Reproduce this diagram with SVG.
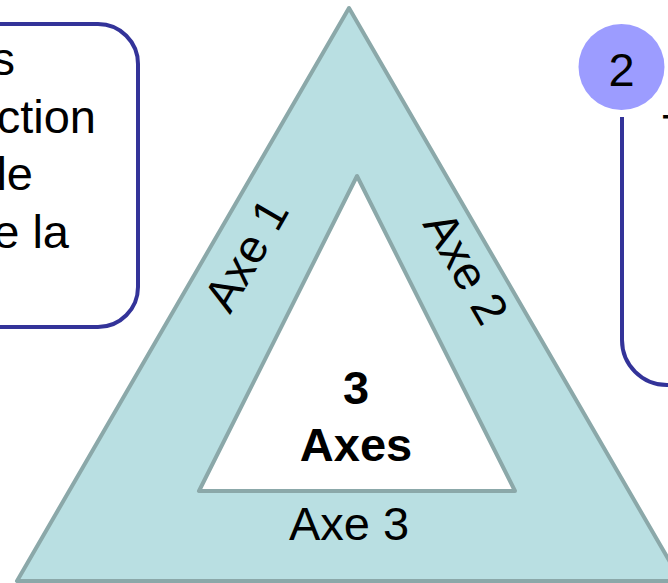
<svg xmlns="http://www.w3.org/2000/svg" width="668" height="583" viewBox="0 0 668 583">
<style>
text{font-family:"Liberation Sans",Arial,sans-serif;fill:#000}
.lbl{font-size:47px}
.bold{font-size:47px;font-weight:bold}
.tri{stroke:#8BA8A9;stroke-width:4;stroke-linejoin:round}
.box{fill:none;stroke:#333399;stroke-width:4}
</style>
<rect width="668" height="583" fill="#ffffff"/>
<g id="box-left">
<rect class="box" x="-40" y="24" width="178" height="303" rx="40" ry="40" fill="#ffffff"/>
<text class="lbl" x="15" y="75" text-anchor="end">s</text>
<text class="lbl" x="96" y="133" text-anchor="end">ction</text>
<text class="lbl" x="33" y="190" text-anchor="end">le</text>
<text class="lbl" x="69" y="248" text-anchor="end">e la</text>
</g>
<g id="box-right">
<path class="box" d="M622,117 V340 A45,45 0 0 0 667,385 H700"/>
<circle cx="621.5" cy="67" r="43" fill="#9C9CFF"/>
<text class="lbl" x="621.5" y="86" text-anchor="middle">2</text>
<text class="lbl" x="662" y="147">T</text>
</g>
<g id="triangle">
<polygon class="tri" points="349,8 17,581 681,581" fill="#B9DFE2"/>
<polygon class="tri" points="357,176 199,491 515,491" fill="#ffffff"/>
<text class="lbl" transform="translate(260,263) rotate(-60)" text-anchor="middle">Axe 1</text>
<text class="lbl" transform="translate(452,276) rotate(60)" text-anchor="middle">Axe 2</text>
<text class="lbl" x="349" y="540" text-anchor="middle">Axe 3</text>
<text class="bold" x="356" y="404" text-anchor="middle">3</text>
<text class="bold" x="356" y="461" text-anchor="middle">Axes</text>
</g>
</svg>
